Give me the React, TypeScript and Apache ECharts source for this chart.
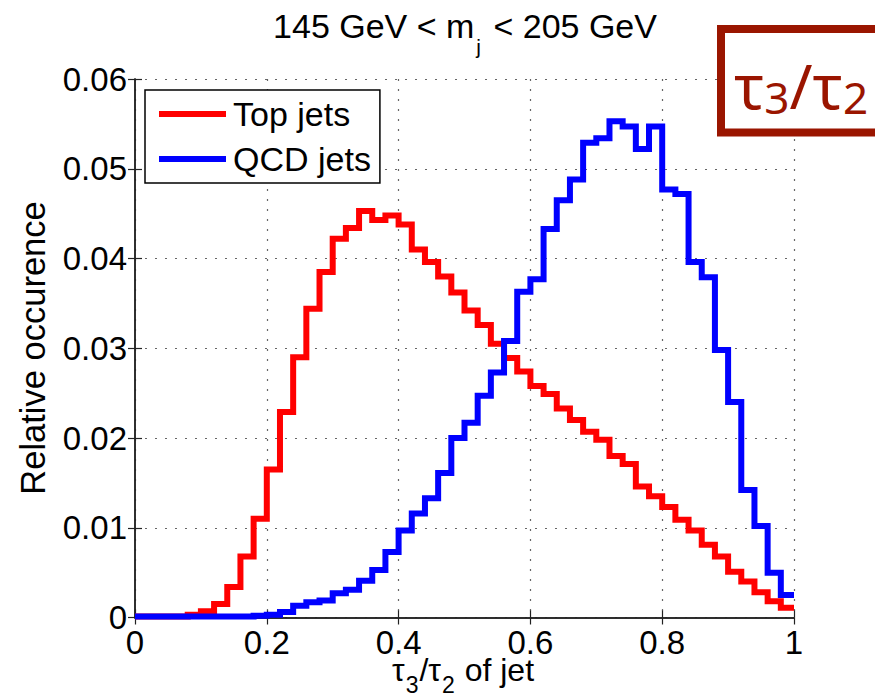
import React, { useEffect, useRef } from "react";
import * as echarts from "echarts";

const FONT = "'Liberation Sans', Arial, Helvetica, sans-serif";
const TAUFONT = "'Noto Sans', 'Open Sans', sans-serif";

const binWidth = 0.02;
const xTicks = [0, 0.2, 0.4, 0.6, 0.8, 1];
const yTicks = [0, 0.01, 0.02, 0.03, 0.04, 0.05, 0.06];

const seriesNames = ["Top jets", "QCD jets"];

const topJets = [
  0.0001, 0.0001, 0.0001, 0.0001, 0.0003, 0.0007, 0.0015, 0.0034, 0.0068, 0.011,
  0.0165, 0.0229, 0.029, 0.0344, 0.0385, 0.0422, 0.0434, 0.0453, 0.0443, 0.0448,
  0.0438, 0.041, 0.0396, 0.038, 0.0362, 0.0342, 0.0326, 0.0305, 0.0289, 0.0274,
  0.0258, 0.0249, 0.0233, 0.022, 0.0207, 0.0198, 0.018, 0.0171, 0.0146, 0.0135,
  0.0123, 0.0109, 0.0097, 0.0081, 0.0068, 0.0051, 0.004, 0.0028, 0.0018, 0.0011,
];

const qcdJets = [
  0.0001, 0.0001, 0.0001, 0.0001, 0.0001, 0.0001, 0.0001, 0.0001, 0.0001, 0.0002,
  0.0003, 0.0006, 0.0013, 0.0017, 0.0019, 0.0027, 0.0031, 0.0041, 0.0053, 0.0073,
  0.0097, 0.0116, 0.0133, 0.0161, 0.02, 0.0217, 0.0247, 0.0273, 0.0308, 0.0363,
  0.0377, 0.0433, 0.0465, 0.0488, 0.0529, 0.0534, 0.0553, 0.0547, 0.0522, 0.0547,
  0.0477, 0.0472, 0.0396, 0.0379, 0.0298, 0.024, 0.0142, 0.0102, 0.005, 0.0025,
];

function toSteps(values: number[]): [number, number][] {
  const pts: [number, number][] = values.map((v, i) => [+(i * binWidth).toFixed(2), v]);
  pts.push([1, values[values.length - 1]]);
  return pts;
}

const RED = "#ff0000";
const BLUE = "#0000ff";
const DARKRED = "#9a1500";

export default function App() {
  const ref = useRef<HTMLDivElement>(null);

  useEffect(() => {
    if (!ref.current) return;
    const chart = echarts.init(ref.current, undefined, { renderer: "svg" });

    const axisLine = { show: true, lineStyle: { color: "#222", width: 1.5 } };
    const axisTick = { show: true, inside: true, length: 7, lineStyle: { color: "#222", width: 1.2 } };
    const split = { show: true, lineStyle: { color: "#666", width: 1.2, type: [2, 8] as any } };

    chart.setOption({
      animation: false,
      backgroundColor: "#ffffff",
      grid: { left: 135, top: 79, width: 659, height: 538.5, containLabel: false },
      legend: {
        data: seriesNames,
        orient: "vertical",
        left: 145,
        top: 90,
        padding: [7, 9, 7, 14],
        itemGap: 11,
        itemWidth: 67,
        itemHeight: 6,
        icon: "rect",
        backgroundColor: "#ffffff",
        borderColor: "#000",
        borderWidth: 1.5,
        borderRadius: 0,
        textStyle: { fontFamily: FONT, fontSize: 34, color: "#000", padding: [0, 0, 0, 2] },
        z: 20,
      },
      xAxis: [
        {
          type: "value",
          min: 0,
          max: 1,
          interval: 0.2,
          axisLine,
          axisTick,
          splitLine: split,
          axisLabel: {
            fontFamily: FONT,
            fontSize: 33,
            color: "#000",
            margin: 8,
            formatter: (v: number) => (xTicks.includes(+v.toFixed(1)) ? String(+v.toFixed(1)) : ""),
          },
        },
        {
          type: "value",
          position: "top",
          min: 0,
          max: 1,
          interval: 0.2,
          axisLine,
          axisTick,
          splitLine: { show: false },
          axisLabel: { show: false },
        },
      ],
      yAxis: [
        {
          type: "value",
          min: 0,
          max: 0.06,
          interval: 0.01,
          axisLine,
          axisTick,
          splitLine: split,
          axisLabel: {
            fontFamily: FONT,
            fontSize: 33,
            color: "#000",
            margin: 8,
            formatter: (v: number) => {
              const r = +v.toFixed(2);
              return yTicks.includes(r) ? (r === 0 ? "0" : r.toFixed(2)) : "";
            },
          },
        },
        {
          type: "value",
          position: "right",
          min: 0,
          max: 0.06,
          interval: 0.01,
          axisLine,
          axisTick,
          splitLine: { show: false },
          axisLabel: { show: false },
        },
      ],
      series: [
        {
          name: seriesNames[0],
          type: "line",
          step: "end",
          showSymbol: false,
          data: toSteps(topJets),
          color: RED,
          lineStyle: { color: RED, width: 6, join: "miter" } as any,
          z: 3,
        },
        {
          name: seriesNames[1],
          type: "line",
          step: "end",
          showSymbol: false,
          data: toSteps(qcdJets),
          color: BLUE,
          lineStyle: { color: BLUE, width: 6, join: "miter" } as any,
          z: 4,
        },
      ],
      graphic: [
        {
          type: "text",
          x: 465,
          y: 26,
          z: 50,
          style: {
            text: "{n|145 GeV < m}{s|j}{n| < 205 GeV}",
            align: "center",
            verticalAlign: "middle",
            fill: "#000",
            rich: {
              n: { fontFamily: FONT, fontSize: 34, fill: "#000" },
              s: { fontFamily: FONT, fontSize: 21, fill: "#000", padding: [41, 3, 0, 2] },
            },
          },
        },
        {
          type: "text",
          x: 33,
          y: 348,
          rotation: Math.PI / 2,
          z: 50,
          style: {
            text: "Relative occurence",
            align: "center",
            verticalAlign: "middle",
            fontFamily: FONT,
            fontSize: 34.5,
            fill: "#000",
          },
        },
        {
          type: "text",
          x: 463,
          y: 670,
          z: 50,
          style: {
            text: "{n|τ}{s|3}{n|/τ}{s|2}{n| of jet}",
            align: "center",
            verticalAlign: "middle",
            fill: "#000",
            rich: {
              n: { fontFamily: FONT, fontSize: 32, fill: "#000" },
              s: { fontFamily: FONT, fontSize: 23, fill: "#000", padding: [30, 1, 0, 1] },
            },
          },
        },
        {
          type: "rect",
          z: 60,
          shape: { x: 721, y: 29, width: 200, height: 103.5 },
          style: { fill: "#ffffff", stroke: DARKRED, lineWidth: 8 },
        },
        {
          type: "text",
          x: 801,
          y: 85,
          z: 61,
          style: {
            text: "{t|τ}{s|3}{t|/τ}{s|2}",
            align: "center",
            verticalAlign: "middle",
            fill: DARKRED,
            rich: {
              t: { fontFamily: TAUFONT, fontSize: 62, fill: DARKRED },
              s: { fontFamily: TAUFONT, fontSize: 44, fill: DARKRED, padding: [24, 0, 0, 0] },
            },
          },
        },
      ],
    });

    return () => chart.dispose();
  }, []);

  return <div ref={ref} style={{ width: 875, height: 699, position: "absolute", left: 0, top: 0 }} />;
}
